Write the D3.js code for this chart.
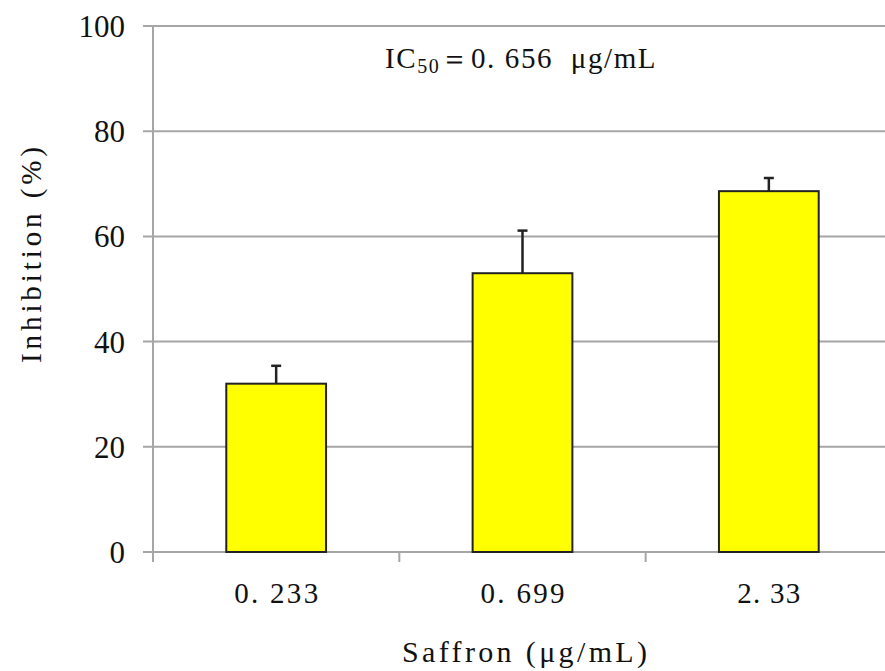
<!DOCTYPE html>
<html>
<head>
<meta charset="utf-8">
<script src="https://cdn.jsdelivr.net/npm/d3@7"></script>
<style>
  body { margin: 0; background: #fff; }
  text { white-space: pre; }
</style>
</head>
<body>
<div id="chart"></div>
<script>
// Data
const categories = ["0.233", "0.699", "2.33"];
const inhibition = [32.0, 53.0, 68.6];
const errors = [3.4, 8.1, 2.5];
const yTicks = [0, 20, 40, 60, 80, 100];

const width = 885, height = 671;
const margin = { top: 26, right: -7, bottom: 119, left: 153 };
const innerW = width - margin.left - margin.right;
const innerH = height - margin.top - margin.bottom;

const gridColor = "#a6a6a6";
const serif = "'Liberation Serif', 'Times New Roman', serif";

const svg = d3.select("#chart")
    .append("svg")
    .attr("width", width)
    .attr("height", height);

const g = svg.append("g")
    .attr("transform", `translate(${margin.left}, ${margin.top})`);

const x = d3.scaleBand()
    .domain(categories)
    .range([0, innerW])
    .paddingInner(0)
    .paddingOuter(0);

const y = d3.scaleLinear()
    .domain([0, 100])
    .range([innerH, 0]);

// Gridlines (with outward tick on the left)
g.append("g")
    .selectAll("line")
    .data(yTicks)
    .enter()
    .append("line")
    .attr("x1", -10)
    .attr("x2", innerW)
    .attr("y1", d => y(d))
    .attr("y2", d => y(d))
    .attr("stroke", gridColor)
    .attr("stroke-width", 2);

// Y axis line
g.append("line")
    .attr("x1", 0).attr("x2", 0)
    .attr("y1", y(100)).attr("y2", y(0))
    .attr("stroke", gridColor)
    .attr("stroke-width", 2);

// Y tick labels
g.append("g")
    .selectAll("text")
    .data(yTicks)
    .enter()
    .append("text")
    .attr("x", -28)
    .attr("y", d => y(d) + 11)
    .attr("text-anchor", "end")
    .style("font-family", serif)
    .style("font-size", "31px")
    .style("fill", "#111")
    .text(d => d);

// X axis ticks at band boundaries
const boundaries = categories.map(c => x(c)).concat([innerW]);
g.append("g")
    .selectAll("line")
    .data(boundaries)
    .enter()
    .append("line")
    .attr("x1", d => d).attr("x2", d => d)
    .attr("y1", innerH).attr("y2", innerH + 10)
    .attr("stroke", gridColor)
    .attr("stroke-width", 2);

// X tick labels (spread out like the original monospaced font)
const labelWidths = { "0.233": 84, "0.699": 84, "2.33": 63 };
g.append("g")
    .selectAll("text")
    .data(categories)
    .enter()
    .append("text")
    .attr("x", d => x(d) + x.bandwidth() / 2 - labelWidths[d] / 2)
    .attr("y", innerH + 51)
    .attr("textLength", d => labelWidths[d])
    .attr("lengthAdjust", "spacing")
    .style("font-family", serif)
    .style("font-size", "29px")
    .style("fill", "#111")
    .text(d => d.replace(".", ". "));

// Bars
const barW = x.bandwidth() * 0.405;
g.append("g")
    .selectAll("rect")
    .data(categories)
    .enter()
    .append("rect")
    .attr("x", d => x(d) + (x.bandwidth() - barW) / 2)
    .attr("y", (d, i) => y(inhibition[i]))
    .attr("width", barW)
    .attr("height", (d, i) => innerH - y(inhibition[i]))
    .attr("fill", "#ffff00")
    .attr("stroke", "#222")
    .attr("stroke-width", 2);

// Error bars
const errG = g.append("g")
    .attr("stroke", "#222")
    .attr("stroke-width", 2.5);
categories.forEach((c, i) => {
    const cx = x(c) + x.bandwidth() / 2;
    errG.append("line")
        .attr("x1", cx).attr("x2", cx)
        .attr("y1", y(inhibition[i])).attr("y2", y(inhibition[i] + errors[i]));
    errG.append("line")
        .attr("x1", cx - 5).attr("x2", cx + 5)
        .attr("y1", y(inhibition[i] + errors[i])).attr("y2", y(inhibition[i] + errors[i]));
});

// Annotation
const ann = svg.append("text")
    .attr("x", 385)
    .attr("y", 68)
    .style("font-family", serif)
    .style("font-size", "29px")
    .style("letter-spacing", "1.6px")
    .style("fill", "#111");
ann.append("tspan").text("IC");
ann.append("tspan").attr("dy", 5).style("font-size", "20px").text("50");
ann.append("tspan").attr("dy", -5).text("＝0. 656  μg/mL");

// X axis title
svg.append("text")
    .attr("x", 402)
    .attr("y", 662)
    .attr("textLength", 245)
    .attr("lengthAdjust", "spacing")
    .style("font-family", serif)
    .style("font-size", "30px")
    .style("fill", "#111")
    .text("Saffron (μg/mL)");

// Y axis title
svg.append("text")
    .attr("transform", "translate(41, 363) rotate(-90)")
    .attr("textLength", 216)
    .attr("lengthAdjust", "spacing")
    .style("font-family", serif)
    .style("font-size", "29px")
    .style("fill", "#111")
    .text("Inhibition (%)");
</script>
</body>
</html>
